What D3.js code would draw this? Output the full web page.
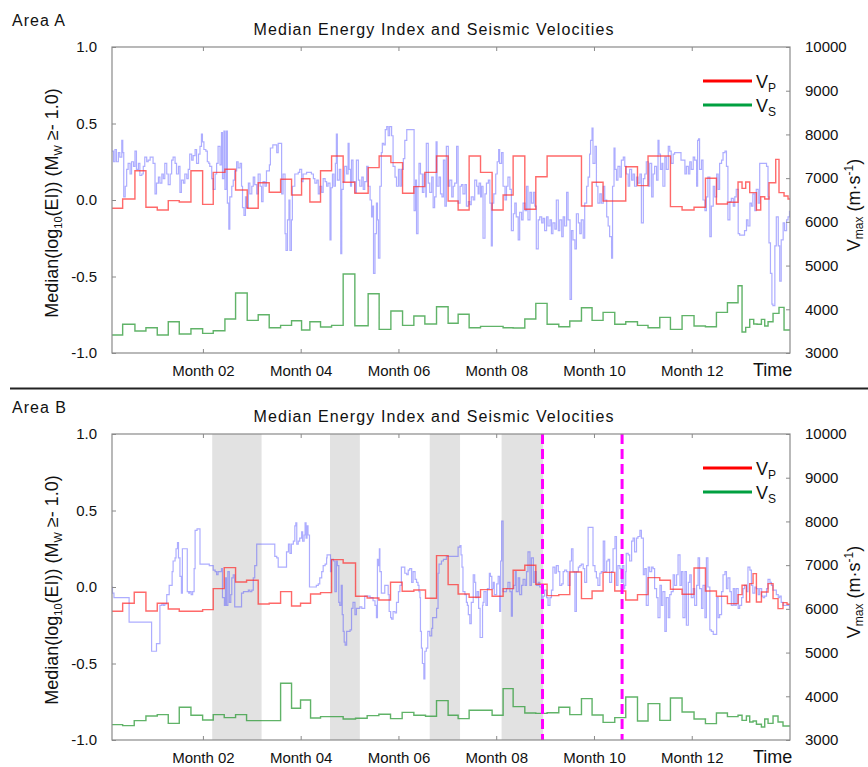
<!DOCTYPE html>
<html>
<head>
<meta charset="utf-8">
<script src="https://cdn.jsdelivr.net/npm/d3@7"></script>
<style>
  body { margin: 0; background: #fff; }
  text { font-family: 'Liberation Sans', Arial, sans-serif; fill: #111; }
</style>
</head>
<body>
<div id="chart-area"></div>
<script>
// ---- data (time in months, velocities in m/s, EI in log10 units) ----
const monthTicks = [2, 4, 6, 8, 10, 12];
const leftTicks = [-1, -0.5, 0, 0.5, 1];
const rightTicks = [3000, 4000, 5000, 6000, 7000, 8000, 9000, 10000];

// Area A
const vpA_t = [0.14,0.358,0.609,0.834,1.066,1.291,1.516,1.755,1.994,2.211,2.45,2.668,2.906,3.131,3.356,3.589,3.813,4.018,4.188,4.406,4.632,4.869,5.108,5.38,5.605,5.845,6.084,6.315,6.54,6.779,7.016,7.221,7.446,7.679,7.916,8.141,8.346,8.585,8.81,9.041,9.744,9.961,10.186,10.65,10.89,11.106,11.564,11.802,12.047,12.28,12.505,12.73,12.947,13.029,13.104,13.186,13.323,13.411,13.493,13.581,13.718,13.785,13.888,13.97];
const vpA_v = [6310,6523,7170,6333,6271,6485,6454,7170,6401,7133,7202,6729,6310,6896,6676,6973,6614,6987,6454,7170,7507,6905,6653,7240,7507,7354,6653,6805,7133,7507,6477,6271,7507,7133,6271,6614,7507,6287,7033,7507,6363,6905,6477,7262,6828,7507,6348,6271,6333,6996,6408,6447,6912,6767,6912,6668,6271,6576,6523,6896,7430,6668,6591,6523];

const vsA_t = [0.14,0.358,0.609,0.834,1.066,1.291,1.516,1.755,1.994,2.211,2.45,2.668,2.906,3.131,3.356,3.589,3.813,4.018,4.188,4.406,4.632,4.869,5.108,5.38,5.605,5.845,6.084,6.315,6.54,6.779,7.016,7.221,7.446,7.679,7.916,8.141,8.346,8.585,8.81,9.041,9.28,9.505,9.744,9.961,10.186,10.425,10.65,10.89,11.106,11.346,11.564,11.802,12.047,12.28,12.505,12.73,12.947,13.029,13.104,13.186,13.268,13.336,13.425,13.493,13.561,13.663,13.785,13.888];
const vsA_v = [3411,3656,3503,3578,3411,3716,3434,3556,3450,3510,3777,4372,3747,3876,3578,3632,3739,3526,3716,3594,3632,4807,3625,4356,3541,3960,3632,3846,3663,4059,3679,3885,3578,3610,3610,3578,3571,3777,4136,3656,3600,3731,4036,3747,3930,3656,3716,3632,3578,3816,3541,3854,3617,3600,3930,4150,4539,3480,3587,3770,3663,3656,3770,3617,3716,3907,4044,3526];

const eiA = [[0.13,0.32],[0.17,0.25],[0.20,0.33],[0.23,0.25],[0.27,0.31],[0.30,0.28],[0.34,0.39],[0.36,0.31],[0.38,0.02],[0.41,0.09],[0.44,0.20],[0.47,0.24],[0.51,0.17],[0.54,0.25],[0.58,0.22],[0.61,0.32],[0.64,0.20],[0.68,0.24],[0.71,0.16],[0.75,0.17],[0.78,0.22],[0.81,0.28],[0.85,0.25],[0.88,0.26],[0.92,0.28],[0.95,0.28],[0.98,0.24],[1.02,0.04],[1.05,0.11],[1.09,0.15],[1.12,0.11],[1.16,0.17],[1.19,0.14],[1.22,0.24],[1.26,0.17],[1.29,0.10],[1.33,0.17],[1.36,0.26],[1.39,0.28],[1.43,0.24],[1.46,0.17],[1.50,0.22],[1.53,0.05],[1.56,0.13],[1.60,0.11],[1.63,0.17],[1.67,0.14],[1.70,0.20],[1.73,0.30],[1.77,0.26],[1.80,0.29],[1.84,0.33],[1.87,0.24],[1.91,0.30],[1.94,0.35],[1.97,0.43],[1.99,0.38],[2.02,0.33],[2.06,0.32],[2.09,0.25],[2.12,0.24],[2.14,0.22],[2.18,0.14],[2.21,0.07],[2.25,0.17],[2.28,0.24],[2.31,0.35],[2.35,0.23],[2.38,0.44],[2.40,0.14],[2.43,0.45],[2.45,0.07],[2.48,0.45],[2.50,-0.02],[2.53,-0.19],[2.55,0.02],[2.59,0.09],[2.62,0.13],[2.65,0.19],[2.69,0.25],[2.72,0.21],[2.76,0.24],[2.79,0.09],[2.81,-0.05],[2.84,-0.10],[2.87,0.02],[2.89,-0.05],[2.93,0.11],[2.96,0.04],[3.00,0.09],[3.03,0.15],[3.06,0.10],[3.10,0.04],[3.13,0.17],[3.17,0.09],[3.20,-0.01],[3.23,0.12],[3.27,0.09],[3.30,0.19],[3.36,0.23],[3.38,0.34],[3.43,0.36],[3.47,0.36],[3.51,0.31],[3.54,0.37],[3.59,0.37],[3.61,0.04],[3.64,0.17],[3.68,-0.22],[3.70,-0.33],[3.73,-0.13],[3.76,0],[3.78,-0.33],[3.81,-0.13],[3.83,0.09],[3.88,0.17],[3.95,0.18],[3.98,0.20],[4.02,0.12],[4.05,0.17],[4.12,0.18],[4.19,0.18],[4.22,0.17],[4.26,0.14],[4.29,0.11],[4.33,0.13],[4.36,0.04],[4.39,0.09],[4.43,0.05],[4.46,0.14],[4.50,0.12],[4.53,0.09],[4.56,0.11],[4.60,-0.26],[4.62,0.08],[4.65,0.17],[4.68,0.09],[4.71,0.24],[4.73,0.43],[4.75,0.13],[4.79,0.20],[4.82,-0.35],[4.84,0.07],[4.87,0.12],[4.90,0.22],[4.94,0.17],[4.97,0.37],[4.99,0.20],[5.02,0.09],[5.04,0.26],[5.07,0.12],[5.11,0.05],[5.14,0.26],[5.18,0.13],[5.21,0.09],[5.25,0.15],[5.28,0.07],[5.31,0.12],[5.35,0.22],[5.38,0.09],[5.42,0],[5.45,-0.11],[5.47,-0.04],[5.49,-0.48],[5.52,-0.22],[5.55,-0.02],[5.57,-0.13],[5.59,-0.38],[5.62,0.09],[5.65,0.31],[5.67,0.37],[5.70,0.36],[5.73,0.46],[5.76,0.48],[5.79,0.42],[5.82,0.48],[5.86,0.42],[5.89,0.22],[5.93,0.15],[5.96,0.09],[6.00,0.20],[6.03,0.09],[6.06,0.20],[6.10,0.27],[6.13,0.39],[6.17,0.46],[6.23,0.46],[6.29,0.46],[6.32,-0.07],[6.35,0.13],[6.37,-0.22],[6.40,0.09],[6.42,0.24],[6.45,0.17],[6.49,0.05],[6.52,0.17],[6.56,0.02],[6.57,0.37],[6.61,0.11],[6.64,0.05],[6.68,0.15],[6.71,-0.05],[6.74,0.02],[6.77,0.38],[6.79,0.09],[6.83,0.15],[6.86,0.04],[6.89,0.02],[6.92,0.26],[6.95,-0.04],[6.98,0.35],[7.02,0.09],[7.05,0.13],[7.09,0.02],[7.12,0.09],
  [7.15,0.11],[7.19,0.35],[7.22,-0.02],[7.26,0.09],[7.29,0.10],[7.32,0.04],[7.36,0.10],[7.39,-0.04],[7.43,-0.01],[7.46,-0.03],[7.49,0.02],[7.53,0],[7.56,0.13],[7.60,0.09],[7.63,0.04],[7.65,0.11],[7.68,0.02],[7.70,0.09],[7.73,-0.25],[7.77,0.04],[7.80,0.11],[7.84,0.13],[7.87,-0.02],[7.90,-0.30],[7.92,-0.02],[7.95,0.04],[7.99,0.17],[8.02,0.25],[8.05,0.33],[8.07,0.24],[8.11,0.31],[8.14,0.09],[8.18,0],[8.21,0.09],[8.24,0.15],[8.28,0.07],[8.31,-0.20],[8.35,-0.09],[8.38,-0.02],[8.41,-0.11],[8.45,-0.26],[8.48,-0.08],[8.52,-0.13],[8.55,-0.02],[8.59,-0.07],[8.62,0.09],[8.65,-0.13],[8.69,0.05],[8.72,-0.02],[8.76,0.05],[8.79,-0.04],[8.82,-0.32],[8.86,-0.13],[8.89,-0.11],[8.93,-0.15],[8.96,-0.12],[8.99,-0.20],[9.03,-0.11],[9.06,-0.17],[9.10,-0.13],[9.13,-0.22],[9.16,-0.15],[9.20,-0.19],[9.23,0],[9.27,-0.20],[9.30,-0.13],[9.34,-0.24],[9.37,-0.11],[9.40,-0.17],[9.44,0.05],[9.47,-0.13],[9.51,-0.65],[9.54,-0.20],[9.57,-0.26],[9.61,-0.32],[9.64,-0.09],[9.68,-0.15],[9.71,-0.22],[9.74,-0.13],[9.78,-0.25],[9.81,-0.02],[9.85,0.09],[9.88,0.15],[9.91,0.30],[9.93,0.39],[9.96,0.47],[9.98,0.24],[10.02,0.35],[10.05,0.09],[10.08,-0.02],[10.12,0.04],[10.15,-0.02],[10.19,0.09],[10.22,0],[10.26,-0.11],[10.29,-0.17],[10.32,-0.24],[10.36,-0.38],[10.38,0.09],[10.41,0.34],[10.43,0.20],[10.46,0.13],[10.49,0.22],[10.53,0.15],[10.56,0.26],[10.60,0.28],[10.63,0.22],[10.66,0.17],[10.70,0.09],[10.73,0.20],[10.77,0.13],[10.80,0.17],[10.83,0.09],[10.87,0.15],[10.90,0.11],[10.94,0.17],[10.97,-0.15],[11.01,0.14],[11.04,0.17],[11.07,0.25],[11.11,0.09],[11.14,0.24],[11.18,0.02],[11.21,0.17],[11.24,0.22],[11.28,0.13],[11.31,0.39],[11.33,0.30],[11.36,0.20],[11.39,0.24],[11.41,0.09],[11.45,0.28],[11.48,0.20],[11.52,0.35],[11.55,0.32],[11.58,0.24],[11.62,0.30],[11.65,0.31],[11.76,0.31],[11.78,0.26],[11.82,0.26],[11.86,0.17],[11.89,0.22],[11.93,0.17],[11.96,0.25],[11.99,0.20],[12.03,0.28],[12.06,0.26],[12.10,0.09],[12.12,0.39],[12.14,0.40],[12.16,0.20],[12.20,0.26],[12.23,0],[12.27,-0.07],[12.30,0.02],[12.33,0.15],[12.37,-0.24],[12.40,-0.04],[12.44,0.09],[12.47,0.02],[12.51,0.17],[12.54,0.07],[12.57,0.24],[12.61,0.26],[12.64,0.31],[12.68,0.32],[12.71,0.22],[12.74,-0.13],[12.78,-0.01],[12.81,0.01],[12.85,-0.04],[12.88,0.02],[12.91,0.07],[12.95,-0.22],[12.98,-0.23],[13.05,-0.23],[13.08,-0.20],[13.12,-0.13],[13.15,-0.17],[13.19,-0.02],[13.22,-0.04],[13.25,0.04],[13.29,-0.07],[13.32,0.07],[13.36,-0.02],[13.39,0.24],[13.43,0.24],[13.49,0.24],[13.53,0.22],[13.56,0.02],[13.58,-0.28],[13.61,-0.48],[13.64,-0.68],[13.66,-0.69],[13.70,-0.30],[13.73,-0.11],[13.77,-0.30],[13.80,-0.53],[13.83,-0.26],[13.87,-0.15],[13.90,-0.20],[13.94,-0.13],[13.97,-0.11],[14.00,-0.07]];

// Area B
const vpB_t = [0.14,0.358,0.595,0.834,1.066,1.291,1.516,1.755,1.994,2.211,2.436,2.668,2.893,3.131,3.356,3.589,3.813,3.997,4.202,4.406,4.632,4.869,5.122,5.36,5.599,5.838,6.076,6.315,6.554,6.779,7.016,7.221,7.446,7.679,7.916,8.141,8.346,8.585,8.81,9.041,9.28,9.505,9.744,9.961,10.186,10.425,10.65,10.89,11.106,11.346,11.564,11.802,12.047,12.28,12.505,12.73,12.947,13.029,13.118,13.186,13.254,13.323,13.425,13.561,13.663,13.765,13.867,13.949];
const vpB_v = [5944,6127,6379,5951,6127,5997,5944,5944,5983,6463,6944,6614,6653,6111,6127,6394,6065,6127,6340,6371,7127,7049,6287,6248,6203,6608,6402,6431,6241,7218,6555,6340,6264,6440,6287,6463,6882,6997,6562,6303,6326,6843,6234,6408,6835,6408,6203,6326,6715,6653,6447,6333,6935,6408,6287,6120,6326,6539,6157,6578,6806,6157,6386,6578,6234,6005,6143,6104];

const vsB_t = [0.14,0.358,0.595,0.834,1.066,1.291,1.516,1.755,1.994,2.211,2.436,2.668,2.893,3.131,3.356,3.589,3.813,3.997,4.202,4.406,4.632,4.869,5.122,5.36,5.599,5.838,6.076,6.315,6.554,6.779,7.016,7.221,7.446,7.679,7.916,8.141,8.346,8.585,8.81,9.041,9.28,9.505,9.744,9.961,10.186,10.425,10.65,10.89,11.106,11.346,11.564,11.802,12.047,12.28,12.505,12.73,12.947,13.029,13.118,13.186,13.254,13.323,13.425,13.493,13.561,13.663,13.765,13.867];
const vsB_v = [3351,3329,3443,3549,3580,3381,3748,3565,3457,3580,3512,3580,3443,3443,3443,4297,3725,3915,3503,3535,3535,3480,3496,3557,3588,3489,3633,3565,3542,3900,3565,3489,3679,3679,3565,4175,3763,3617,3610,3625,3748,3580,3946,3572,3404,3512,3983,3435,3832,3450,3960,3640,3480,3374,3617,3535,3565,3450,3549,3412,3435,3359,3298,3480,3381,3549,3412,3320];

const eiB = [[0.13,0.00],[0.15,-0.04],[0.18,-0.07],[0.41,-0.07],[0.49,-0.23],[0.92,-0.23],[0.95,-0.42],[1.02,-0.42],[1.05,-0.37],[1.11,-0.37],[1.12,-0.12],[1.16,-0.11],[1.19,-0.12],[1.22,-0.11],[1.26,-0.05],[1.29,-0.05],[1.31,0.01],[1.35,0.01],[1.37,0.10],[1.39,0.17],[1.43,0.19],[1.45,0.25],[1.48,0.29],[1.50,0.19],[1.53,0.07],[1.56,-0.04],[1.58,0.25],[1.61,0.25],[1.65,0.25],[1.68,-0.03],[1.71,-0.04],[1.73,-0.03],[1.76,-0.05],[1.79,-0.03],[1.82,0.12],[1.84,0.37],[1.88,0.38],[1.91,0.38],[1.94,0.15],[2.01,0.15],[2.11,0.15],[2.13,0.14],[2.18,0.14],[2.21,0.11],[2.25,0.10],[2.28,0.08],[2.31,0.10],[2.35,0.10],[2.38,0.12],[2.40,-0.07],[2.44,-0.12],[2.46,0.06],[2.48,-0.12],[2.51,0.10],[2.54,-0.10],[2.57,-0.05],[2.59,0.06],[2.62,0.08],[2.65,-0.13],[2.69,-0.13],[2.76,-0.13],[2.79,-0.04],[2.83,-0.03],[2.89,-0.03],[2.93,-0.02],[2.96,-0.03],[3.00,-0.02],[3.03,0.06],[3.06,0.14],[3.10,0.28],[3.30,0.28],[3.44,0.28],[3.47,0.20],[3.51,0.19],[3.54,0.13],[3.68,0.13],[3.71,0.23],[3.75,0.28],[3.78,0.22],[3.81,0.28],[3.85,0.30],[3.88,0.40],[3.90,0.42],[3.92,0.28],[3.95,0.30],[3.98,0.32],[4.02,0.36],[4.04,0.30],[4.07,0.34],[4.09,0.42],[4.11,0.32],[4.13,0.40],[4.15,0.34],[4.18,0],[4.27,0],[4.32,0.01],[4.36,0.02],[4.39,0.06],[4.43,0.10],[4.46,0.14],[4.50,0.15],[4.53,0.19],[4.54,0.21],[4.58,0.21],[4.61,0.10],[4.63,0.18],[4.67,0.17],[4.70,-0.03],[4.73,0.17],[4.75,0.14],[4.78,-0.10],[4.80,-0.12],[4.83,0.01],[4.85,-0.18],[4.87,-0.29],[4.89,-0.36],[4.91,-0.38],[4.94,-0.29],[4.97,-0.29],[5.01,-0.28],[5.04,-0.14],[5.07,-0.10],[5.11,-0.18],[5.14,-0.14],[5.18,-0.14],[5.21,-0.13],[5.25,-0.14],[5.28,-0.14],[5.31,-0.06],[5.35,-0.06],[5.38,-0.06],[5.42,-0.07],[5.45,-0.07],[5.48,-0.09],[5.52,-0.12],[5.55,-0.20],[5.57,0.18],[5.59,0.14],[5.61,0.25],[5.62,0.10],[5.65,-0.04],[5.69,-0.04],[5.72,0.01],[5.76,0.01],[5.79,-0.05],[5.81,-0.16],[5.84,-0.20],[5.86,-0.21],[5.89,-0.16],[5.93,-0.17],[5.96,-0.10],[6.00,-0.03],[6.03,0.01],[6.06,0.13],[6.10,0.13],[6.13,0.09],[6.17,0.08],[6.20,0.11],[6.23,0.12],[6.27,0.03],[6.30,0.10],[6.34,0.05],[6.37,0.03],[6.40,0.01],[6.42,-0.03],[6.44,-0.07],[6.45,-0.29],[6.47,-0.40],[6.49,-0.50],[6.52,-0.60],[6.54,-0.42],[6.57,-0.40],[6.60,-0.29],[6.63,-0.29],[6.64,-0.32],[6.68,-0.27],[6.70,-0.20],[6.74,-0.20],[6.78,-0.14],[6.81,0.09],[6.83,0.15],[6.88,0.17],[6.92,0.18],[6.98,0.20],[7.19,0.20],
  [7.22,0.26],[7.26,0.27],[7.28,0.21],[7.30,0.13],[7.32,-0.03],[7.36,-0.05],[7.39,-0.10],[7.41,-0.12],[7.43,-0.18],[7.46,-0.24],[7.49,-0.10],[7.53,0.08],[7.56,0.03],[7.58,-0.07],[7.61,-0.03],[7.64,-0.14],[7.67,-0.33],[7.70,-0.33],[7.72,-0.12],[7.73,-0.10],[7.75,-0.03],[7.79,-0.12],[7.82,-0.01],[7.86,0.09],[7.88,0.07],[7.91,-0.01],[7.94,0.03],[7.96,-0.05],[8.01,0.02],[8.04,0.07],[8.07,-0.16],[8.09,0.17],[8.11,0.43],[8.14,-0.03],[8.18,-0.03],[8.21,-0.01],[8.24,0.03],[8.28,-0.03],[8.31,-0.19],[8.33,-0.01],[8.36,0.01],[8.39,0.10],[8.41,-0.03],[8.45,0.06],[8.48,-0.05],[8.52,0.01],[8.55,0.05],[8.59,0.01],[8.62,0.10],[8.65,0.23],[8.69,0.01],[8.72,0.19],[8.76,0.03],[8.79,0.10],[8.82,0.01],[8.86,0.03],[8.89,0],[8.93,-0.12],[8.96,-0.06],[8.99,-0.02],[9.03,-0.07],[9.06,-0.12],[9.10,-0.07],[9.13,-0.02],[9.16,0.13],[9.20,0.09],[9.23,0.14],[9.27,0.10],[9.30,0.01],[9.34,0.02],[9.37,0.10],[9.40,0.11],[9.44,0.10],[9.47,0.01],[9.51,0.17],[9.54,0.25],[9.57,0.10],[9.61,-0.16],[9.64,0.10],[9.68,0.13],[9.71,0.14],[9.74,0.15],[9.78,0.12],[9.81,0.03],[9.85,0.14],[9.88,0.39],[9.95,0.39],[9.98,0.14],[10.02,0.10],[10.05,0.06],[10.08,0.01],[10.12,0.09],[10.15,0.10],[10.19,0.30],[10.22,0.10],[10.26,0.17],[10.29,0.18],[10.32,0.03],[10.36,0.10],[10.39,0.25],[10.43,0.33],[10.46,0.01],[10.49,0.14],[10.53,0.12],[10.56,0.03],[10.58,0.14],[10.61,-0.01],[10.63,0.01],[10.65,0.10],[10.66,0.22],[10.70,0.21],[10.73,0.17],[10.77,0.30],[10.80,0.32],[10.83,0.23],[10.87,0.32],[10.90,0.33],[10.94,0.37],[10.97,0.32],[11.01,0.08],[11.04,0.12],[11.07,-0.12],[11.11,0.13],[11.14,0.10],[11.18,0.13],[11.21,0.12],[11.24,-0.01],[11.28,-0.07],[11.31,-0.20],[11.35,0.01],[11.38,-0.12],[11.41,-0.03],[11.45,-0.29],[11.48,-0.07],[11.52,-0.20],[11.55,-0.05],[11.58,-0.03],[11.62,0.08],[11.65,0.01],[11.69,0.08],[11.72,0.21],[11.76,0.01],[11.79,0.10],[11.82,-0.20],[11.86,0.10],[11.89,-0.25],[11.93,0.03],[11.96,0.08],[11.99,-0.07],[12.03,-0.01],[12.06,-0.12],[12.10,0.01],[12.13,0.19],[12.16,-0.01],[12.20,-0.14],[12.23,0.01],[12.27,-0.20],[12.30,0.19],[12.33,0],[12.37,-0.28],[12.40,-0.29],[12.44,-0.31],[12.47,-0.31],[12.51,-0.07],[12.54,-0.20],[12.57,-0.18],[12.61,-0.03],[12.64,0.08],[12.68,0.10],[12.71,-0.01],[12.74,0.06],[12.78,-0.03],[12.81,-0.12],[12.85,-0.01],[12.88,-0.12],[12.91,-0.01],[12.95,-0.14],[12.98,-0.12],[13.02,-0.07],[13.05,-0.01],[13.08,0.01],[13.12,-0.03],[13.15,0.13],[13.19,0.11],[13.22,0.01],[13.25,-0.04],[13.29,0],[13.32,-0.01],[13.36,-0.05],[13.39,-0.01],[13.43,-0.06],[13.46,-0.07],[13.49,-0.06],[13.53,-0.01],[13.56,0.05],[13.60,0.03],[13.63,0.01],[13.66,-0.02],[13.70,-0.02],[13.73,-0.05],[13.77,-0.07],[13.80,-0.06],[13.83,-0.10],[13.87,-0.12],[13.94,-0.12],[14.00,-0.14]];

// grey periods and dashed markers in Area B (months)
const shadeB = [[2.19, 3.20], [4.60, 5.21], [6.64, 7.26], [8.11, 8.96]];
const dashB = [8.947, 10.575];

// ---- layout ----
const width = 868;
const height = 767;
const margin = { left: 112, top: 47 };
const plotW = 678;
const plotH = 306;
const panelStep = 387;
const tEnd = 14.01;

const svg = d3
  .select('#chart-area')
  .append('svg')
  .attr('width', width)
  .attr('height', height)
  .style('background', '#fff');

const x = d3.scaleLinear().domain([0.14, tEnd]).range([0, plotW]);
const yL = d3.scaleLinear().domain([-1, 1]).range([plotH, 0]);
const yR = d3.scaleLinear().domain([3000, 10000]).range([plotH, 0]);

// step series helper: starts + values -> points (last step runs to the end)
function steps(t, v) {
  const pts = t.map((d, i) => ({ t: d, v: v[i] }));
  pts.push({ t: tEnd, v: v[v.length - 1] });
  return pts;
}

const lineR = d3.line().curve(d3.curveStepAfter).x((d) => x(d.t)).y((d) => yR(d.v));
const lineL = d3.line().curve(d3.curveStepAfter).x((d) => x(d[0])).y((d) => yL(d[1]));

function styleAxis(sel) {
  sel.select('.domain').remove();
  sel.selectAll('.tick line').attr('stroke', '#8a8a8a');
  sel.selectAll('.tick text').attr('font-size', 15).attr('fill', '#111')
    .attr('font-family', "'Liberation Sans', Arial, sans-serif");
}

function drawPanel(idx, cfg) {
  const top = margin.top + idx * panelStep;
  const g = svg.append('g').attr('transform', `translate(${margin.left}, ${top})`);

  g.append('clipPath').attr('id', `clip${idx}`)
    .append('rect').attr('width', plotW).attr('height', plotH);

  const plot = g.append('g').attr('clip-path', `url(#clip${idx})`);

  // shaded periods
  plot.selectAll('.shade').data(cfg.shades).enter().append('rect')
    .attr('x', (d) => x(d[0])).attr('width', (d) => x(d[1]) - x(d[0]))
    .attr('y', 0).attr('height', plotH).attr('fill', '#e2e2e2');

  // energy index
  plot.append('path').attr('d', lineL(cfg.ei)).attr('fill', 'none')
    .attr('stroke', '#4a4aff').attr('stroke-opacity', 0.45).attr('stroke-width', 1.2);

  // velocities
  plot.append('path').attr('d', lineR(steps(cfg.vp[0], cfg.vp[1]))).attr('fill', 'none')
    .attr('stroke', '#ff2a2a').attr('stroke-opacity', 0.7).attr('stroke-width', 1.4);
  plot.append('path').attr('d', lineR(steps(cfg.vs[0], cfg.vs[1]))).attr('fill', 'none')
    .attr('stroke', '#2b9a35').attr('stroke-opacity', 0.75).attr('stroke-width', 1.4);

  // dashed markers
  plot.selectAll('.mark').data(cfg.dashes).enter().append('line')
    .attr('x1', (d) => x(d)).attr('x2', (d) => x(d)).attr('y1', 0).attr('y2', plotH)
    .attr('stroke', '#ff00ff').attr('stroke-width', 3).attr('stroke-dasharray', '10,5');

  // frame
  g.append('rect').attr('width', plotW).attr('height', plotH)
    .attr('fill', 'none').attr('stroke', '#8a8a8a').attr('stroke-width', 1.2);

  // axes
  g.append('g').attr('transform', `translate(0, ${plotH})`)
    .call(d3.axisBottom(x).tickValues(monthTicks).tickSize(-4).tickPadding(12)
      .tickFormat((d) => `Month ${String(d).padStart(2, '0')}`))
    .call(styleAxis);
  g.append('g')
    .call(d3.axisTop(x).tickValues(monthTicks).tickSize(-4).tickFormat(''))
    .call(styleAxis);
  g.append('g')
    .call(d3.axisLeft(yL).tickValues(leftTicks).tickSize(-4).tickPadding(15)
      .tickFormat((d) => d.toFixed(1)))
    .call(styleAxis);
  g.append('g').attr('transform', `translate(${plotW}, 0)`)
    .call(d3.axisRight(yR).tickValues(rightTicks).tickSize(-4).tickPadding(15)
      .tickFormat((d) => String(d)))
    .call(styleAxis);

  // legend
  const legend = g.append('g').attr('transform', `translate(${plotW - 87}, 34)`);
  [['P', '#ff0000'], ['S', '#00a040']].forEach((d, i) => {
    legend.append('line').attr('x1', 0).attr('x2', 49).attr('y1', i * 24).attr('y2', i * 24)
      .attr('stroke', d[1]).attr('stroke-width', 3);
    const t = legend.append('text').attr('x', 53).attr('y', i * 24 + 7).attr('font-size', 18);
    t.append('tspan').text('V');
    t.append('tspan').attr('font-size', 12).attr('dy', 4).text(d[0]);
  });

  // titles and labels
  g.append('text').attr('x', -100).attr('y', -21).attr('font-size', 16)
    .attr('letter-spacing', 1).text(cfg.name);
  g.append('text').attr('x', 322).attr('y', -12).attr('text-anchor', 'middle')
    .attr('font-size', 16).attr('letter-spacing', 1.1)
    .text('Median Energy Index and Seismic Velocities');
  g.append('text').attr('x', 641).attr('y', plotH + 23).attr('font-size', 18).text('Time');

  const yl = g.append('text').attr('transform', `translate(-54, ${plotH / 2 + 3}) rotate(-90)`)
    .attr('text-anchor', 'middle').attr('font-size', 18);
  yl.append('tspan').text('Median(log');
  yl.append('tspan').attr('font-size', 11).attr('dy', 4).text('10');
  yl.append('tspan').attr('dy', -4).text('(EI)) (M');
  yl.append('tspan').attr('font-size', 11).attr('dy', 4).text('W');
  yl.append('tspan').attr('dy', -4).text(' ≥- 1.0)');

  const yr = g.append('text').attr('transform', `translate(748, ${plotH / 2 + 5}) rotate(-90)`)
    .attr('text-anchor', 'middle').attr('font-size', 18);
  yr.append('tspan').text('V');
  yr.append('tspan').attr('font-size', 12).attr('dy', 3).text('max');
  yr.append('tspan').attr('dy', -3).text(' (m·s');
  yr.append('tspan').attr('font-size', 12).attr('dy', -7).text('-1');
  yr.append('tspan').attr('dy', 7).text(')');
}

drawPanel(0, { name: 'Area A', vp: [vpA_t, vpA_v], vs: [vsA_t, vsA_v], ei: eiA, shades: [], dashes: [] });
drawPanel(1, { name: 'Area B', vp: [vpB_t, vpB_v], vs: [vsB_t, vsB_v], ei: eiB, shades: shadeB, dashes: dashB });

// separator between the two areas
svg.append('line').attr('x1', 10).attr('x2', width).attr('y1', 388.5).attr('y2', 388.5)
  .attr('stroke', '#222').attr('stroke-width', 2);
</script>
</body>
</html>
